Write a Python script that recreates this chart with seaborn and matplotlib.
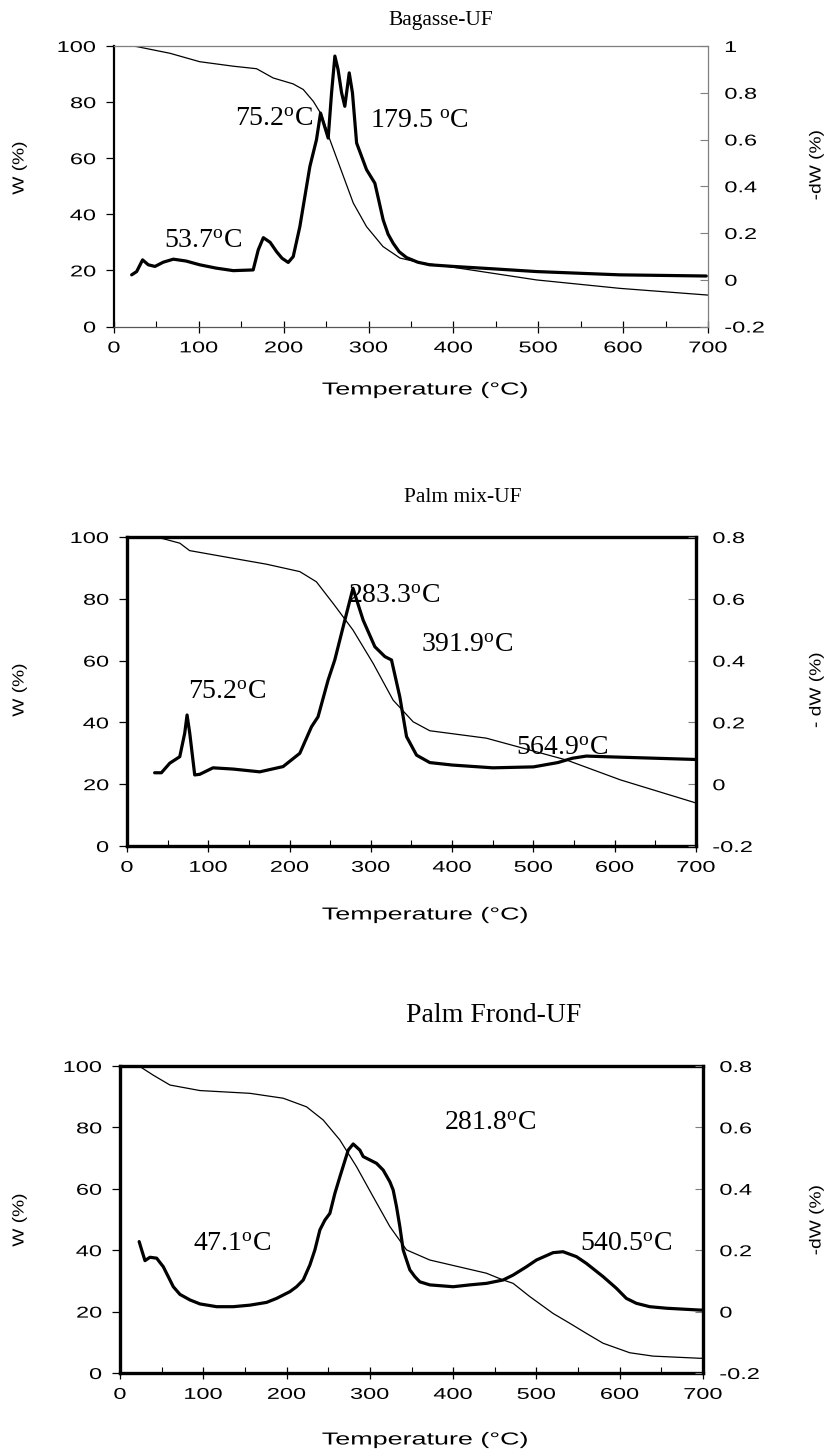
import numpy as np
import matplotlib
matplotlib.use("Agg")
import matplotlib.pyplot as plt
import seaborn as sns
from matplotlib.patheffects import AbstractPathEffect
from matplotlib.transforms import Affine2D

# ---------------- data ----------------
# Panel 1: Bagasse-UF
bag_tg_T = [20, 26.7, 66, 101, 140.5, 168, 187.6, 211, 223, 234.8, 244.6, 254.4, 266, 282,
            297.6, 317, 337, 360, 400, 498, 596, 700]
bag_tg_W = [100, 99.8, 97.4, 94.4, 92.8, 91.9, 88.6, 86.5, 84.5, 80.3, 75.5, 66.6, 57.1, 44,
            35.6, 28.5, 24.4, 22.8, 21.1, 16.6, 13.6, 11.2]
bag_dtg_T = [20.8, 26.7, 33.7, 40.4, 48.3, 58, 69.9, 85, 101, 120, 140.5, 164, 170, 176, 184,
             191.6, 198, 205.3, 211.2, 219, 230.8, 238.6, 243.4, 252.4, 256.4, 260.3, 264,
             268.2, 272, 277.2, 281, 285.9, 297.6, 307.4, 312, 317.2, 323, 329, 336, 344.7,
             358, 372, 400, 450, 498, 596, 698]
bag_dtg_D = [0.021, 0.035, 0.085, 0.064, 0.057, 0.075, 0.088, 0.080, 0.064, 0.050, 0.039, 0.042,
             0.128, 0.180, 0.160, 0.120, 0.092, 0.074, 0.099, 0.227, 0.484, 0.599, 0.713, 0.606,
             0.800, 0.957, 0.900, 0.800, 0.742, 0.885, 0.800, 0.585, 0.471, 0.413, 0.340, 0.256,
             0.195, 0.156, 0.120, 0.095, 0.075, 0.064, 0.057, 0.046, 0.035, 0.021, 0.016]
bag_labels = [("53.7", "", 104.8, 30.2), ("75.2", "", 188.5, 73.75), ("179.5", " ", 360.4, 73.0)]

# Panel 2: Palm mix-UF
mix_tg_T = [28, 42.3, 65, 77, 130.5, 171.6, 212.6, 233, 253.6, 278, 302.8, 327.4, 352, 372.5,
            442, 541, 607, 699]
mix_tg_W = [100, 99.6, 98, 95.6, 93.1, 91.2, 88.8, 85.5, 78.5, 69.9, 59.1, 47.2, 40.2, 37.3,
            34.9, 27.8, 21.4, 14.0]
mix_dtg_T = [34, 42.3, 52.6, 64.9, 71, 73.9, 77.2, 83.3, 89.5, 105.8, 130.5, 163.3, 192, 212.6,
             227, 235, 247.4, 255.6, 268, 278, 290.5, 304.9, 317.2, 325.4, 335.6, 343.9, 356.2,
             372.5, 400, 450, 500, 530, 548, 565, 600, 700]
mix_dtg_D = [0.037, 0.037, 0.068, 0.089, 0.165, 0.224, 0.165, 0.030, 0.032, 0.053, 0.049, 0.040,
             0.057, 0.100, 0.186, 0.218, 0.337, 0.402, 0.531, 0.634, 0.531, 0.445, 0.413, 0.402,
             0.283, 0.154, 0.094, 0.070, 0.062, 0.053, 0.056, 0.070, 0.084, 0.091, 0.088, 0.080]
mix_labels = [("283.3", "", 328, 80.6), ("391.9", "", 418, 65), ("75.2", "", 123.3, 49.8),
              ("564.9", "", 535, 31.7)]

# Panel 3: Palm Frond-UF
frd_tg_T = [24, 40, 60, 96, 156, 196, 224, 244, 264, 284, 304, 324, 344, 372, 440, 460, 472,
            492, 520, 540, 560, 580, 612, 640, 696, 700]
frd_tg_W = [99.8, 97, 93.8, 92, 91.1, 89.5, 86.7, 82.4, 75.9, 67.2, 57.4, 47.7, 40.1, 36.8,
            32.5, 30.3, 29.2, 24.9, 19.4, 16.2, 12.9, 9.7, 6.6, 5.5, 4.8, 4.8]
frd_dtg_T = [23, 26, 30, 36, 44, 52, 64, 72, 84, 96, 116, 136, 156, 176, 188, 204, 212, 220, 228,
             234, 240, 246, 252, 258, 264, 274, 280, 288, 292, 300, 308, 316, 324, 328, 332, 336,
             340, 344, 348, 354, 360, 372, 400, 420, 440, 460, 472, 488, 500, 520, 532, 548,
             560, 580, 596, 608, 620, 636, 656, 696, 700]
frd_dtg_D = [0.228, 0.201, 0.166, 0.177, 0.174, 0.146, 0.081, 0.056, 0.038, 0.025, 0.016, 0.016,
             0.021, 0.030, 0.043, 0.065, 0.081, 0.103, 0.152, 0.201, 0.266, 0.298, 0.320, 0.385,
             0.439, 0.526, 0.546, 0.526, 0.505, 0.494, 0.483, 0.461, 0.423, 0.396, 0.342, 0.277,
             0.201, 0.168, 0.136, 0.114, 0.097, 0.087, 0.081, 0.087, 0.092, 0.103, 0.119, 0.146,
             0.168, 0.192, 0.195, 0.179, 0.157, 0.114, 0.076, 0.043, 0.027, 0.016, 0.011, 0.005,
             0.005]
frd_labels = [("281.8", "", 444, 81.4), ("47.1", "", 135, 41.7), ("540.5", "", 608, 41.7)]

titles = ["Bagasse-UF", "Palm mix-UF", "Palm Frond-UF"]
x_ticks = [0, 100, 200, 300, 400, 500, 600, 700]
w_ticks = [0, 20, 40, 60, 80, 100]
dw_ticks_1 = [-0.2, 0, 0.2, 0.4, 0.6, 0.8, 1.0]
dw_labels_1 = ["-0.2", "0", "0.2", "0.4", "0.6", "0.8", "1"]
dw_ticks_2 = [-0.2, 0, 0.2, 0.4, 0.6, 0.8]
dw_labels_2 = ["-0.2", "0", "0.2", "0.4", "0.6", "0.8"]
right_labels = ["-dW (%)", "- dW (%)", "-dW (%)"]

# ---------------- style ----------------
sns.set_theme(style="white")
plt.rcParams["font.family"] = ["Liberation Sans", "DejaVu Sans"]
plt.rcParams["mathtext.fontset"] = "custom"
plt.rcParams["mathtext.rm"] = "Liberation Serif"
plt.rcParams["mathtext.it"] = "Liberation Serif:italic"


class HStretch(AbstractPathEffect):
    """Draw text widened horizontally (the reference's sans text is wide)."""

    def __init__(self, sx=1.45, anchor=0.5):
        super().__init__((0, 0))
        self._sx = sx
        self._anchor = anchor

    def draw_path(self, renderer, gc, tpath, affine, rgbFace=None):
        ext = tpath.get_extents()
        cx = ext.x0 + self._anchor * (ext.x1 - ext.x0)
        t = Affine2D().translate(-cx, 0).scale(self._sx, 1).translate(cx, 0) + affine
        renderer.draw_path(gc, tpath, t, rgbFace)


W, H = 827, 1456
fig = plt.figure(figsize=(W / 100, H / 100), dpi=100)
fig.patch.set_facecolor("white")

SANS = 11.3
SX = 1.5


def px_axes(left, right, top, bottom):
    return [left / W, 1 - bottom / H, (right - left) / W, (bottom - top) / H]


panels = [
    dict(rect=px_axes(114, 708, 46, 326.5), tgT=bag_tg_T, tgW=bag_tg_W, dT=bag_dtg_T, dD=bag_dtg_D,
         dlim=(-0.2, 1.0), dticks=dw_ticks_1, dlabels=dw_labels_1, labels=bag_labels,
         title_xy=(441, 21), title_fs=15.5, style="light", ylab_y=168, rlab_y=165, xlab_y=390),
    dict(rect=px_axes(127, 696, 537, 846), tgT=mix_tg_T, tgW=mix_tg_W, dT=mix_dtg_T, dD=mix_dtg_D,
         dlim=(-0.2, 0.8), dticks=dw_ticks_2, dlabels=dw_labels_2, labels=mix_labels,
         title_xy=(463, 498), title_fs=15.5, style="bold", ylab_y=690, rlab_y=690, xlab_y=915),
    dict(rect=px_axes(120, 703, 1066, 1373), tgT=frd_tg_T, tgW=frd_tg_W, dT=frd_dtg_T, dD=frd_dtg_D,
         dlim=(-0.2, 0.8), dticks=dw_ticks_2, dlabels=dw_labels_2, labels=frd_labels,
         title_xy=(494, 1016), title_fs=20, style="bold", ylab_y=1220, rlab_y=1220, xlab_y=1440),
]

for i, p in enumerate(panels):
    ax = fig.add_axes(p["rect"])
    ax2 = ax.twinx()
    ax.set_facecolor("none")

    sns.lineplot(x=p["tgT"], y=p["tgW"], ax=ax, color="black", linewidth=0.9,
                 sort=False, estimator=None)
    sns.lineplot(x=p["dT"], y=p["dD"], ax=ax2, color="black", linewidth=2.3,
                 sort=False, estimator=None)

    ax.set_xlim(0, 700)
    ax.set_ylim(0, 100)
    ax2.set_ylim(*p["dlim"])
    ax.set_xticks(x_ticks)
    ax.set_xticks(np.arange(50, 700, 100), minor=True)
    ax.set_xticklabels([str(v) for v in x_ticks])
    ax.set_yticks(w_ticks)
    ax.set_yticklabels([str(v) for v in w_ticks])
    ax2.set_yticks(p["dticks"])
    ax2.set_yticklabels(p["dlabels"])
    ax.set_xlabel("")
    ax.set_ylabel("")
    ax2.set_ylabel("")

    if p["style"] == "light":
        left_c, left_w = "black", 1.6
        oth_c, oth_w = "#7f7f7f", 0.9
        bot_c, bot_w = "#555555", 0.9
    else:
        left_c, left_w = "black", 2.4
        oth_c, oth_w = "black", 2.4
        bot_c, bot_w = "black", 2.4

    for s in ["left", "right", "top", "bottom"]:
        ax.spines[s].set_visible(False)
        ax2.spines[s].set_visible(False)
    ax.spines["left"].set_visible(True)
    ax.spines["left"].set_color(left_c)
    ax.spines["left"].set_linewidth(left_w)
    ax.spines["bottom"].set_visible(True)
    ax.spines["bottom"].set_color(bot_c)
    ax.spines["bottom"].set_linewidth(bot_w)
    ax.spines["top"].set_visible(True)
    ax.spines["top"].set_color(oth_c)
    ax.spines["top"].set_linewidth(oth_w)
    ax2.spines["right"].set_visible(True)
    ax2.spines["right"].set_color(oth_c)
    ax2.spines["right"].set_linewidth(oth_w)

    ax.tick_params(axis="x", which="major", direction="inout", length=8, width=0.9,
                   color="black", pad=6, labelsize=SANS, labelcolor="black", bottom=True, top=False)
    ax.tick_params(axis="x", which="minor", direction="in", length=4, width=0.8,
                   color="black", bottom=True, top=False)
    ax.tick_params(axis="y", which="major", direction="out", length=6, width=0.9,
                   color="black", pad=7, labelsize=SANS, labelcolor="black", left=True, right=False)
    ax2.tick_params(axis="y", which="major", direction="in", length=6, width=0.8,
                    color="#7f7f7f", pad=12, labelsize=SANS, labelcolor="black", right=True)

    for lab in ax.get_xticklabels():
        lab.set_path_effects([HStretch(SX, 0.5)])
    for lab in ax.get_yticklabels():
        lab.set_path_effects([HStretch(SX, 1.0)])
    for lab in ax2.get_yticklabels():
        lab.set_path_effects([HStretch(SX, 0.0)])

    for num, sp, tx, ty in p["labels"]:
        ax.text(tx, ty, num + sp + r"$^{\mathrm{o}}$C", ha="center", va="center",
                fontsize=20, family="Liberation Serif", color="black")

    # title, axis labels
    fig.text(p["title_xy"][0] / W, 1 - p["title_xy"][1] / H, titles[i], ha="center",
             va="center", fontsize=p["title_fs"], family="Liberation Serif", color="black")
    fig.text(425 / W, 1 - p["xlab_y"] / H, "Temperature (°C)", ha="center", va="center",
             fontsize=12.5, color="black", path_effects=[HStretch(1.55, 0.5)])
    fig.text(19 / W, 1 - p["ylab_y"] / H, "W (%)", ha="center", va="center", rotation=90,
             fontsize=11.5, color="black", path_effects=[HStretch(1.2, 0.5)])
    fig.text(816 / W, 1 - p["rlab_y"] / H, right_labels[i], ha="center", va="center",
             rotation=90, fontsize=11.5, color="black", path_effects=[HStretch(1.2, 0.5)])

fig.savefig("out.png", dpi=100, facecolor="white")
